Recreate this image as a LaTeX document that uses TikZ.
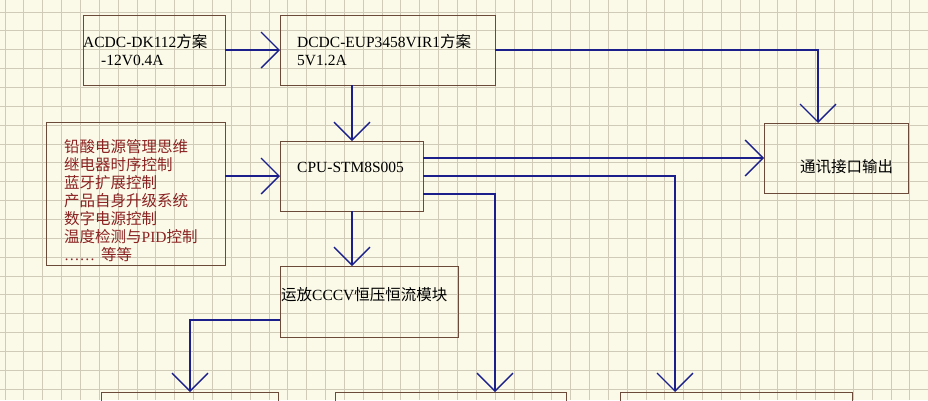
\documentclass[tikz,border=0pt]{standalone}
\usepackage{fontspec}
\setmainfont{Liberation Serif}
\newfontfamily\cjk{Noto Sans CJK SC}
\usetikzlibrary{arrows.meta}
\begin{document}
\begin{tikzpicture}[x=1pt,y=-1pt,
  box/.style={draw=boxc,line width=1pt},
  conn/.style={draw=linec,line width=1.3pt,-{Straight Barb[length=18pt,width=36pt,line width=1.3pt]}},
  lbl/.style={anchor=west,inner sep=0pt,font=\fontsize{15.5}{17}\selectfont},
  every node/.append style={text=black}]
\definecolor{bgc}{HTML}{FBFAE8}
\definecolor{gridc}{HTML}{CFCBB8}
\definecolor{boxc}{HTML}{6B4A3A}
\definecolor{linec}{HTML}{1A1F8C}
\definecolor{redt}{HTML}{8B2222}
\useasboundingbox (0,0) rectangle (928,400);
\clip (0,0) rectangle (928,400);
\fill[bgc] (0,0) rectangle (928,400);
\foreach \i in {0,...,50} {\draw[gridc,line width=0.8pt] ({5+\i*18.85},0) -- ({5+\i*18.85},400);}
\foreach \i in {0,...,22} {\draw[gridc,line width=0.8pt] (0,{12+\i*18.85}) -- (928,{12+\i*18.85});}
% boxes
\draw[box] (83,15) rectangle (225,85);
\draw[box] (280,15) rectangle (495,85);
\draw[box] (46,122) rectangle (225,265);
\draw[box] (280,141) rectangle (423,211);
\draw[box] (764,123) rectangle (908,193);
\draw[box] (280,266) rectangle (458,337);
\draw[box] (101,392) rectangle (278,420);
\draw[box] (335,392) rectangle (566,420);
\draw[box] (620,392) rectangle (852,420);
% texts
\node[lbl] (t1) at (83,42) {ACDC-DK112\cjk 方案};
\node[lbl] (t1b) at (101,60) {-12V0.4A};
\node[lbl] (t2) at (297,42) {DCDC-EUP3458VIR1\cjk 方案};
\node[lbl] (t2b) at (297,60) {5V1.2A};
\node[lbl] (t3) at (297,167) {CPU-STM8S005};
\node[lbl] (t4) at (800,167) {\cjk 通讯接口输出};
\node[lbl] (t5) at (281,295) {\cjk 运放{\rmfamily CCCV}恒压恒流模块};
\node[lbl,align=left,text=redt,font=\cjk\fontsize{15.5}{18}\selectfont,anchor=north west] (t6) at (64,139)
 {铅酸电源管理思维\\继电器时序控制\\蓝牙扩展控制\\产品自身升级系统\\数字电源控制\\温度检测与{\rmfamily PID}控制\\{\rmfamily ……}\hspace{6pt}等等};
% connectors
\coordinate (a1) at (225,50); \coordinate (a2) at (280,50);
\draw[conn] (a1) -- (a2);
\coordinate (b1) at (352,85); \coordinate (b2) at (352,141);
\draw[conn] (b1) -- (b2);
\coordinate (c1) at (495,50); \coordinate (c2) at (818,123);
\draw[conn] (c1) -| (c2);
\coordinate (d1) at (225,176); \coordinate (d2) at (280,176);
\draw[conn] (d1) -- (d2);
\coordinate (e1) at (423,158); \coordinate (e2) at (764,158);
\draw[conn] (e1) -- (e2);
\coordinate (f1) at (423,176); \coordinate (f2) at (675,392);
\draw[conn] (f1) -| (f2);
\coordinate (g1) at (423,194); \coordinate (g2) at (495,392);
\draw[conn] (g1) -| (g2);
\coordinate (h1) at (352,211); \coordinate (h2) at (352,266);
\draw[conn] (h1) -- (h2);
\coordinate (i1) at (280,320); \coordinate (i2) at (190,392);
\draw[conn] (i1) -| (i2);
\end{tikzpicture}
\end{document}
